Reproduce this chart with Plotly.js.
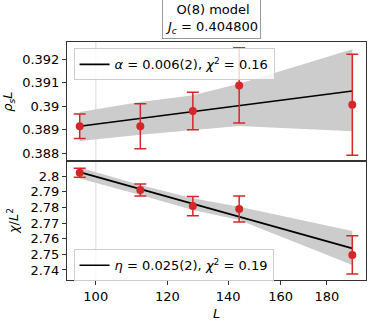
<!DOCTYPE html>
<html>
<head>
<meta charset="utf-8">
<script src="https://cdn.plot.ly/plotly-3.0.1.min.js"></script>
<style>
  html, body { margin: 0; padding: 0; background: #fff; }
  #plot { width: 374px; height: 325px; }
</style>
</head>
<body>
<div id="plot"></div>
<script>
// System sizes
let sizes = [96, 112, 128, 144, 192];

// rho_s * L data
let rhoVals = [0.38915, 0.38915, 0.38980, 0.39089, 0.39007];
let rhoErr = [0.00052, 0.00096, 0.0008, 0.0016, 0.00215];
let rhoFit = [0.38915, 0.38948, 0.38977, 0.39003, 0.39065];
let rhoBandHi = [0.38976, 0.39018, 0.39047, 0.39096, 0.39243];
let rhoBandLo = [0.38852, 0.38879, 0.38898, 0.38916, 0.38894];

// chi / L^2 data
let chiVals = [2.8021, 2.7911, 2.7808, 2.7789, 2.7496];
let chiErr = [0.0028, 0.0038, 0.0061, 0.0083, 0.0122];
let chiFit = [2.8025, 2.7917, 2.7823, 2.7740, 2.7538];
let chiBandHi = [2.8055, 2.7942, 2.7858, 2.7804, 2.7649];
let chiBandLo = [2.7985, 2.7879, 2.7783, 2.7719, 2.7432];

let xTicks = [100, 120, 140, 160, 180];
let rhoTicks = [0.388, 0.389, 0.39, 0.391, 0.392];
let rhoTickText = ["0.388", "0.389", "0.39", "0.391", "0.392"];
let chiTicks = [2.74, 2.75, 2.76, 2.77, 2.78, 2.79, 2.8];
let chiTickText = ["2.74", "2.75", "2.76", "2.77", "2.78", "2.79", "2.8"];

let red = "#d62728";
let font = "DejaVu Sans, sans-serif";

function band(lo, hi, xa, ya) {
  return {
    x: sizes.concat(sizes.slice().reverse()),
    y: hi.concat(lo.slice().reverse()),
    xaxis: xa, yaxis: ya,
    type: "scatter", mode: "lines",
    fill: "toself", fillcolor: "#cccccc",
    line: { width: 0 }, hoverinfo: "skip", showlegend: false
  };
}

let rhoBand = band(rhoBandLo, rhoBandHi, "x2", "y2");
let rhoLine = {
  x: sizes, y: rhoFit, xaxis: "x2", yaxis: "y2",
  type: "scatter", mode: "lines",
  line: { color: "black", width: 1.6 },
  name: "<i>α</i> = 0.006(2), <i>χ</i><sup>2</sup> = 0.16",
  legend: "legend2"
};
let rhoPts = {
  x: sizes, y: rhoVals, xaxis: "x2", yaxis: "y2",
  type: "scatter", mode: "markers",
  marker: { color: red, size: 8 },
  error_y: { type: "data", array: rhoErr, color: red, thickness: 1.5, width: 6 },
  showlegend: false
};

let chiBand = band(chiBandLo, chiBandHi, "x", "y");
let chiLine = {
  x: sizes, y: chiFit, xaxis: "x", yaxis: "y",
  type: "scatter", mode: "lines",
  line: { color: "black", width: 1.6 },
  name: "<i>η</i> = 0.025(2), <i>χ</i><sup>2</sup> = 0.19",
  legend: "legend"
};
let chiPts = {
  x: sizes, y: chiVals, xaxis: "x", yaxis: "y",
  type: "scatter", mode: "markers",
  marker: { color: red, size: 8 },
  error_y: { type: "data", array: chiErr, color: red, thickness: 1.5, width: 6 },
  showlegend: false
};

let xRange = [Math.log10(92.95), Math.log10(198.8)];

let axisCommon = {
  showgrid: false, zeroline: false,
  showline: true, linecolor: "#333", linewidth: 1, mirror: true,
  ticks: "outside", ticklen: 4, tickcolor: "#333",
  tickfont: { family: font, size: 13, color: "black" }
};

let legendCommon = {
  xanchor: "left", yanchor: "top",
  bgcolor: "rgba(255,255,255,0.8)", bordercolor: "#cccccc", borderwidth: 1,
  font: { family: font, size: 13, color: "black" },
  itemwidth: 30
};

let layout = {
  width: 374, height: 325,
  margin: { l: 67, r: 8, t: 42, b: 45 },
  paper_bgcolor: "white", plot_bgcolor: "white",
  showlegend: true,
  xaxis: Object.assign({}, axisCommon, {
    type: "log", range: xRange, domain: [0, 1], anchor: "y",
    tickvals: xTicks, ticktext: xTicks.map(String),
    title: { text: "<i>L</i>", font: { family: font, size: 13, color: "black" }, standoff: 6 }
  }),
  yaxis: Object.assign({}, axisCommon, {
    domain: [0, 0.5], anchor: "x", range: [2.7336, 2.8096],
    tickvals: chiTicks, ticktext: chiTickText,
    title: { text: "<i>χ</i>/<i>L</i><sup>2</sup>", font: { family: font, size: 13, color: "black" }, standoff: 8 }
  }),
  xaxis2: Object.assign({}, axisCommon, {
    type: "log", range: xRange, domain: [0, 1], anchor: "y2", matches: "x",
    tickvals: xTicks, showticklabels: false, ticks: ""
  }),
  yaxis2: Object.assign({}, axisCommon, {
    domain: [0.5, 1], anchor: "x2", range: [0.38767, 0.39274],
    tickvals: rhoTicks, ticktext: rhoTickText,
    title: { text: "<i>ρ<sub>s</sub>L</i>", font: { family: font, size: 13, color: "black" }, standoff: 8 }
  }),
  legend2: Object.assign({}, legendCommon, { x: 0.022, y: 0.973 }),
  legend: Object.assign({}, legendCommon, { x: 0.022, y: 0.129 }),
  shapes: [
    { type: "line", xref: "x", yref: "paper", x0: 100, x1: 100, y0: 0, y1: 1,
      line: { color: "#e6e6e6", width: 1.5 }, layer: "below" }
  ],
  annotations: [
    {
      xref: "paper", yref: "paper", x: 0.4836, y: 1.098,
      xanchor: "center", yanchor: "middle", showarrow: false,
      text: "O(8) model<br><i>J<sub>c</sub></i> = 0.404800",
      font: { family: font, size: 13, color: "black" },
      bordercolor: "#999", borderwidth: 1, borderpad: 2, bgcolor: "white"
    }
  ]
};

Plotly.newPlot("plot", [chiBand, chiLine, chiPts, rhoBand, rhoLine, rhoPts], layout,
  { staticPlot: true, displayModeBar: false });
</script>
</body>
</html>
